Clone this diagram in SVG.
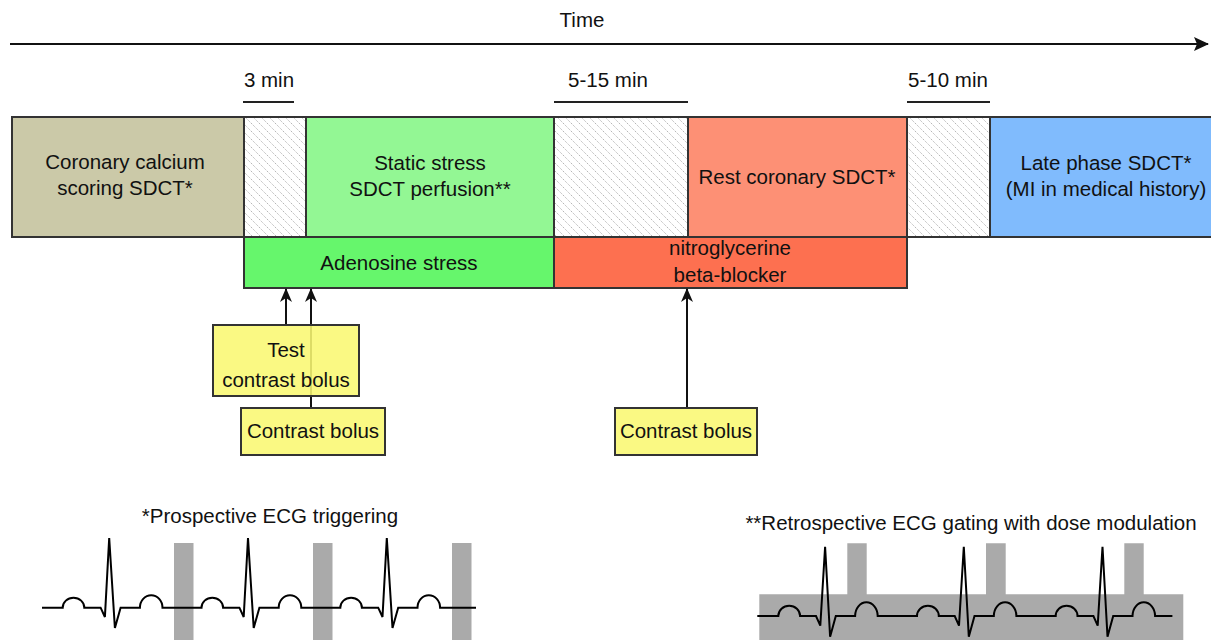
<svg xmlns="http://www.w3.org/2000/svg" width="1211" height="640" viewBox="0 0 1211 640">
<style>
text{font-family:"Liberation Sans",Arial,sans-serif;font-size:20.5px;fill:#111;text-anchor:middle}
.box{stroke:#333;stroke-width:2}
.hatch{fill:url(#hatch);stroke:#333;stroke-width:2}
.yel{fill:#f9f872;fill-opacity:0.88;stroke:#333;stroke-width:2}
.conn{stroke:#111;stroke-width:2;fill:none;marker-end:url(#ah)}
.ecg{fill:none;stroke:#000;stroke-width:2;stroke-linejoin:miter}
.gate{fill:#aaaaaa}
.tick{stroke:#222;stroke-width:2}
</style>
<defs>
<pattern id="hatch" patternUnits="userSpaceOnUse" width="8" height="8">
<rect width="8" height="8" fill="#fff"/>
<path d="M-2,-2 L10,10 M-2,6 L2,10 M6,-2 L10,2" stroke="#aaa" stroke-width="1" stroke-dasharray="1.2,1.2"/>
</pattern>
<marker id="ah" viewBox="0 0 14 12" refX="13" refY="6" markerWidth="14" markerHeight="12" markerUnits="userSpaceOnUse" orient="auto">
<path d="M0,0 L14,6 L0,12 L4,6 Z" fill="#111"/>
</marker>
<marker id="ahbig" viewBox="0 0 15 14" refX="14" refY="7" markerWidth="15" markerHeight="14" markerUnits="userSpaceOnUse" orient="auto">
<path d="M0,0 L15,7 L0,14 L3,7 Z" fill="#111"/>
</marker>
</defs>

<g id="timeline">
<text x="582" y="27">Time</text>
<line x1="10" y1="44" x2="1208" y2="44" stroke="#111" stroke-width="2" marker-end="url(#ahbig)"/>
</g>

<g id="durations">
<text x="269" y="87">3 min</text>
<line class="tick" x1="243" y1="102" x2="294" y2="102"/>
<text x="608" y="87">5-15 min</text>
<line class="tick" x1="554" y1="102" x2="688" y2="102"/>
<text x="948" y="87">5-10 min</text>
<line class="tick" x1="907" y1="102" x2="990" y2="102"/>
</g>

<g id="calcium">
<rect class="box" x="12" y="117" width="232" height="120" fill="#cbc9a8"/>
<text x="125" y="169">Coronary calcium</text>
<text x="125" y="195">scoring SDCT*</text>
</g>
<g id="wait1"><rect class="hatch" x="244" y="117" width="62" height="120"/></g>
<g id="static-stress">
<rect class="box" x="306" y="117" width="248" height="120" fill="#93f794"/>
<text x="430" y="170">Static stress</text>
<text x="430" y="196">SDCT perfusion**</text>
</g>
<g id="wait2"><rect class="hatch" x="554" y="117" width="134" height="120"/></g>
<g id="rest-coronary">
<rect class="box" x="688" y="117" width="219" height="120" fill="#fd9075"/>
<text x="797" y="184">Rest coronary SDCT*</text>
</g>
<g id="wait3"><rect class="hatch" x="907" y="117" width="83" height="120"/></g>
<g id="late-phase">
<rect class="box" x="990" y="117" width="230" height="120" fill="#80bbfd"/>
<text x="1106" y="170">Late phase SDCT*</text>
<text x="1106" y="196">(MI in medical history)</text>
</g>

<g id="adenosine">
<rect class="box" x="244" y="237" width="310" height="51" fill="#66f66c"/>
<text x="399" y="270">Adenosine stress</text>
</g>
<g id="nitro">
<rect class="box" x="554" y="237" width="353" height="51" fill="#fd7050"/>
<text x="730" y="255">nitroglycerine</text>
<text x="730" y="282">beta-blocker</text>
</g>

<g id="connectors">
<line class="conn" x1="286" y1="325" x2="286" y2="289"/>
<line class="conn" x1="311" y1="408" x2="311" y2="289"/>
<line class="conn" x1="687" y1="408" x2="687" y2="289"/>
</g>

<g id="test-bolus">
<rect class="yel" x="213" y="325" width="146" height="71"/>
<text x="286" y="357">Test</text>
<text x="286" y="387">contrast bolus</text>
</g>
<g id="contrast-bolus-1">
<rect class="yel" x="241" y="408" width="144" height="47"/>
<text x="313" y="438">Contrast bolus</text>
</g>
<g id="contrast-bolus-2">
<rect class="yel" x="615" y="408" width="142" height="47"/>
<text x="686" y="438">Contrast bolus</text>
</g>

<g id="prospective">
<text x="270" y="523">*Prospective ECG triggering</text>
<rect class="gate" x="174" y="543" width="19.5" height="97"/>
<rect class="gate" x="313" y="543" width="19.5" height="97"/>
<rect class="gate" x="452" y="543" width="19.5" height="97"/>
<path class="ecg" d="M42,607.7 h20.7 a10.8,10 0 0 1 21.6,0 h16.3 l4.3,9.3 l4.3,-79 l5.7,90 l5.7,-20.3 h19.3 a11.3,12.5 0 0 1 22.6,0 h18.3 h20.7 a10.8,10 0 0 1 21.6,0 h16.3 l4.3,9.3 l4.3,-79 l5.7,90 l5.7,-20.3 h19.3 a11.3,12.5 0 0 1 22.6,0 h18.3 h20.7 a10.8,10 0 0 1 21.6,0 h16.3 l4.3,9.3 l4.3,-79 l5.7,90 l5.7,-20.3 h19.3 a11.3,12.5 0 0 1 22.6,0 h35.9"/>
</g>

<g id="retrospective">
<text x="971" y="530">**Retrospective ECG gating with dose modulation</text>
<path class="gate" d="M759.3,594.3 H847.3 V543.3 H866.7 V594.3 H986 V543.3 H1005.7 V594.3 H1124.3 V543.3 H1143.7 V594.3 H1183.3 V640 H759.3 Z"/>
<path class="ecg" d="M757.3,616 h21 a10.9,10.3 0 0 1 21.8,0 h15.9 l4.3,9.7 l4.8,-79 l5,90 l5.7,-20.7 h19.3 a11.3,13.7 0 0 1 22.6,0 h18.3 h21 a10.9,10.3 0 0 1 21.8,0 h15.9 l4.3,9.7 l4.8,-79 l5,90 l5.7,-20.7 h19.3 a11.3,13.7 0 0 1 22.6,0 h18.3 h21 a10.9,10.3 0 0 1 21.8,0 h15.9 l4.3,9.7 l4.8,-79 l5,90 l5.7,-20.7 h19.3 a11.3,13.7 0 0 1 22.6,0 h17.3"/>
</g>
</svg>
